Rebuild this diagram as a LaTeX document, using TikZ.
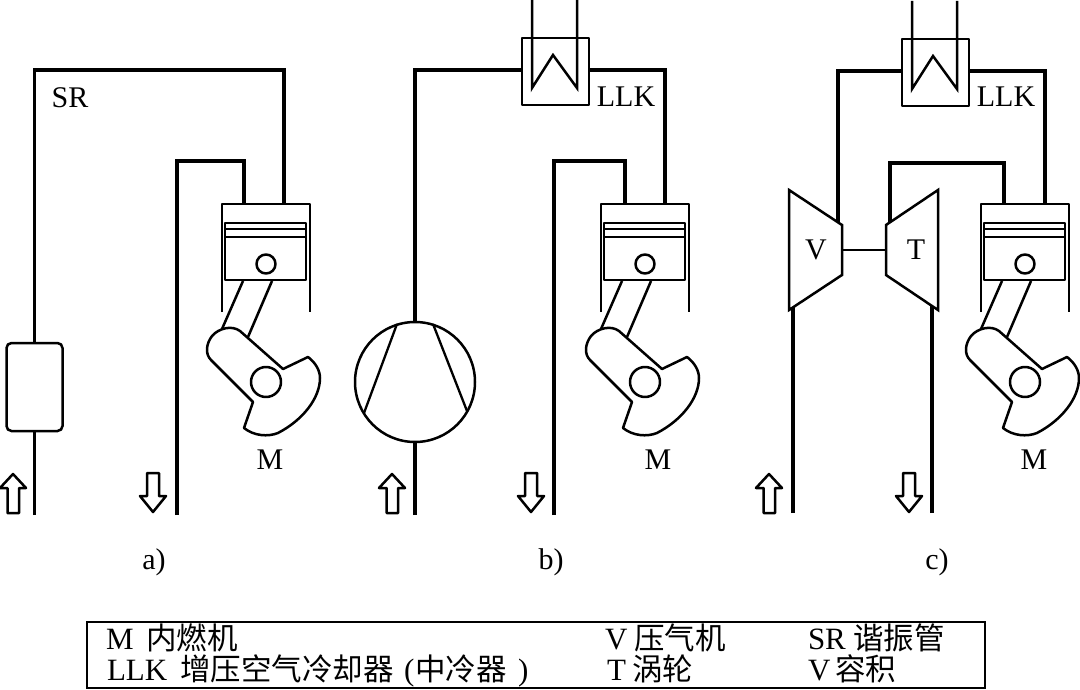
\documentclass[tikz,border=0pt]{standalone}
\usepackage{fontspec}
\setmainfont{Liberation Serif}
\newfontfamily\cjk{Noto Sans CJK SC}
\tikzset{
  pipe/.style={line width=3.6pt,line cap=butt,line join=miter},
  outline/.style={line width=2.5pt,line join=round},
  thinline/.style={line width=2.3pt},
  tag/.style={font=\fontsize{30}{30}\selectfont,inner sep=0pt,outer sep=0pt},
  legend/.style={font=\fontsize{31}{31}\selectfont,inner sep=0pt,outer sep=0pt,anchor=base west},
  legendcjk/.style={font=\fontsize{30.5}{30.5}\selectfont\cjk,inner sep=0pt,outer sep=0pt,anchor=base west},
  % piston, connecting rod and crank of a combustion engine
  engine/.pic={
    \coordinate (-in) at (244,203);
    \coordinate (-out) at (284,203);
    \draw[outline] (222,312) -- (222,204) -- (310,204) -- (310,312);
    \draw[outline] (225,223) rectangle (306,280);
    \draw[outline] (225,229) -- (306,229) (225,237) -- (306,237);
    \draw[outline] (266,264) circle[radius=9.5];
    \draw[outline] (243,281) -- (222,329) (272,281) -- (248,337);
    \draw[outline] (240,331) -- (283,369) -- (308,357)
      .. controls (316,363) and (320,371) .. (320,378)
      .. controls (320,398) and (303,420) .. (278,433)
      .. controls (268,437) and (254,436) .. (244,428)
      -- (253,402) -- (211,360)
      .. controls (205,354) and (206,344) .. (212,336)
      .. controls (219,328) and (232,325) .. (240,331) -- cycle;
    \draw[outline] (266,382) circle[radius=15];
  },
  % hollow flow arrows, tip at the local origin
  flowup/.pic={
    \draw[outline] (0,0) -- (13,14) -- (6,14) -- (6,39) -- (-5.5,39) -- (-5.5,14) -- (-13,14) -- cycle;
  },
  flowdown/.pic={
    \draw[outline] (0,0) -- (13,-16) -- (6,-16) -- (6,-39) -- (-6,-39) -- (-6,-16) -- (-13,-16) -- cycle;
  },
  % charge-air cooler: box with a coolant loop running through it
  cooler/.pic={
    \coordinate (-west) at (522,70);
    \coordinate (-east) at (589,70);
    \draw[outline] (522,38) rectangle (589,105);
    \draw[outline,line join=miter] (532,0) -- (532,88) -- (553,55) -- (577,88) -- (577,0);
  }
}
\begin{document}
\begin{tikzpicture}[x=1pt,y=-1pt]
\useasboundingbox (0,0) rectangle (1080,690);
\fill[white] (0,0) rectangle (1080,690);

% a) resonance tube
\pic (ea) at (0,0) {engine};
\node[draw,line width=2.5pt,rounded corners=5pt,minimum width=56pt,minimum height=88pt,inner sep=0pt,outer sep=0pt] (res) at (34.5,387) {};
\coordinate (ainl) at (34.5,515);
\coordinate (aout) at (177,515);
\draw[pipe] (ainl) -- (res.south);
\draw[pipe] (res.north) |- (70,70) -| (ea-out);
\draw[pipe] (aout) |- (200,161) -| (ea-in);
\pic at (13,474) {flowup};
\pic at (153,512) {flowdown};
\node[tag] (srlab) at (70,98) {SR};
\node[tag] (mA) at (270,460) {M};
\node[tag] (capa) at (154,562) {a)};

% b) mechanically driven compressor with intercooler
\pic (eb) at (379,0) {engine};
\pic (cb) at (0,0) {cooler};
\node[draw,circle,line width=2.5pt,minimum size=120pt,inner sep=0pt,outer sep=0pt] (comp) at (415,382) {};
\draw[thinline] (397,324) -- (364,413) (433,324) -- (467,411);
\coordinate (binl) at (415,515);
\coordinate (bout) at (554,515);
\draw[pipe] (binl) -- (comp.south);
\draw[pipe] (comp.north) |- (cb-west);
\draw[pipe] (cb-east) -| ([xshift=2pt]eb-out);
\draw[pipe] (bout) |- (600,161) -| ([xshift=2pt]eb-in);
\pic at (392,474) {flowup};
\pic at (531,512) {flowdown};
\node[tag] (llkb) at (626,97) {LLK};
\node[tag] (mB) at (658,460) {M};
\node[tag] (capb) at (551,562) {b)};

% c) turbocharger with intercooler
\pic (ec) at (759,0) {engine};
\pic (cc) at (380,1) {cooler};
\coordinate (va) at (789,190);
\coordinate (vb) at (842,225);
\coordinate (vc) at (842,275);
\coordinate (vd) at (789,310);
\coordinate (ta) at (938,190);
\coordinate (tb) at (886,225);
\coordinate (tc) at (886,275);
\coordinate (td) at (938,310);
\draw[outline,line join=miter] (va) -- (vb) -- (vc) -- (vd) -- cycle;
\draw[outline,line join=miter] (ta) -- (tb) -- (tc) -- (td) -- cycle;
\coordinate (vshaft) at (842,250);
\coordinate (tshaft) at (886,250);
\draw[thinline] (vshaft) -- (tshaft);
\coordinate (vtop) at (838,222);
\coordinate (ttop) at (890,222);
\coordinate (vlow) at (793,307);
\coordinate (tlow) at (932,306);
\coordinate (cinl) at (793,513);
\coordinate (cout) at (932,513);
\draw[pipe] (vtop) |- (cc-west);
\draw[pipe] (cc-east) -| ([xshift=2pt]ec-out);
\draw[pipe] (ttop) |- (950,163) -| ([xshift=1pt]ec-in);
\draw[pipe] (cinl) -- (vlow);
\draw[pipe] (cout) -- (tlow);
\pic at (769,474) {flowup};
\pic at (909,512) {flowdown};
\node[tag] (vlab) at (816,250) {V};
\node[tag] (tlab) at (916,250) {T};
\node[tag] (llkc) at (1006,97) {LLK};
\node[tag] (mC) at (1034,460) {M};
\node[tag] (capc) at (937,562) {c)};

% legend
\draw[line width=2.5pt] (87,622) rectangle (985,688);
\node[legend] (l1) at (106,649) {M};
\node[legendcjk] (l1c) at (146,649) {内燃机};
\node[legend] (l2) at (107,680) {LLK};
\node[legendcjk] (l2c) at (180,680) {增压空气冷却器};
\node[legend] (l2o) at (404,680) {(};
\node[legendcjk] (l2d) at (415,680) {中冷器};
\node[legend] (l2e) at (518,680) {)};
\node[legend] (l3) at (605,649) {V};
\node[legendcjk] (l3c) at (634,649) {压气机};
\node[legend] (l4) at (607,680) {T};
\node[legendcjk] (l4c) at (632,680) {涡轮};
\node[legend] (l5) at (808,649) {SR};
\node[legendcjk] (l5c) at (853,649) {谐振管};
\node[legend] (l6) at (808,680) {V};
\node[legendcjk] (l6c) at (835,680) {容积};
\end{tikzpicture}
\end{document}
